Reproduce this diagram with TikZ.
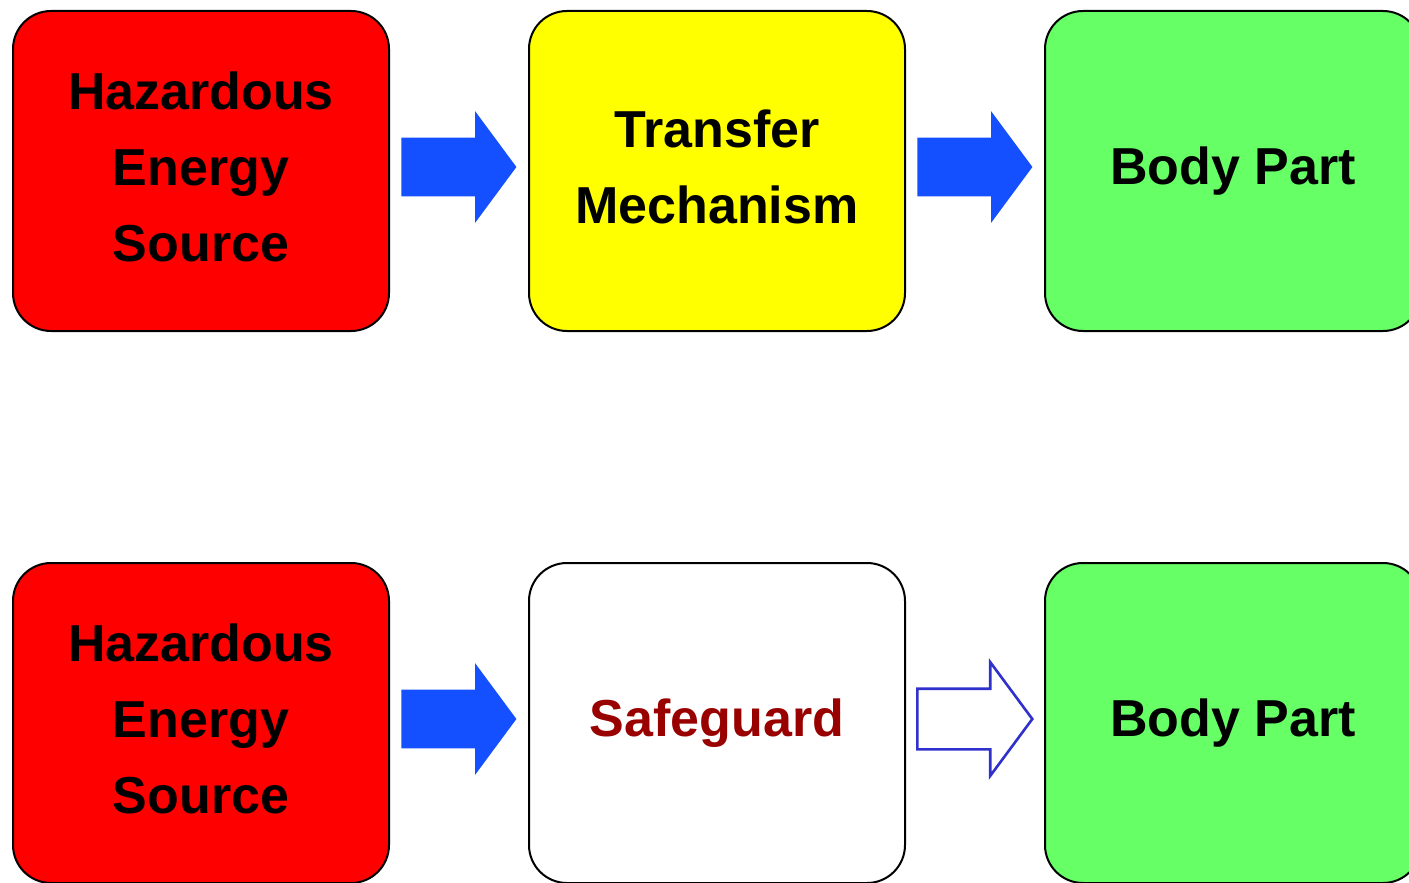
\documentclass[tikz,border=0pt]{standalone}
\usepackage{fontspec}
\setmainfont{Liberation Sans}
\usetikzlibrary{positioning,shapes.arrows}
\definecolor{hazred}{HTML}{FF0000}
\definecolor{mechyellow}{HTML}{FFFF00}
\definecolor{bodygreen}{HTML}{66FF66}
\definecolor{flowblue}{HTML}{1450FF}
\definecolor{lineblue}{HTML}{3030CC}
\definecolor{guardred}{HTML}{990000}

\begin{document}
\begin{tikzpicture}[
  x=0.5pt,y=-0.5pt,
  stage/.style={draw=black,line width=1pt,rounded corners=19pt,
                minimum width=188pt,minimum height=160pt,align=center,
                font=\fontsize{26}{38}\selectfont\bfseries},
  stack/.style={text depth=4pt},
  flow/.style={shape=single arrow,inner xsep=0pt,inner ysep=14.5pt,
               minimum height=57.5pt,single arrow head extend=13.25pt,
               single arrow tip angle=107},
  solidflow/.style={flow,fill=flowblue},
  openflow/.style={flow,fill=white,draw=lineblue,line width=1.3pt}]
\clip (0,0) rectangle (1409,883);
\useasboundingbox (0,0) rectangle (1409,883);
% upper row: energy reaches the body
\node[stage,stack,fill=hazred] (haz1) at (201,171) {Hazardous\\Energy\\Source};
\node[stage,stack,fill=mechyellow,right=69pt of haz1] (mech) {Transfer\\Mechanism};
\node[stage,fill=bodygreen,right=69pt of mech] (body1) {Body Part};
\node[solidflow,right=5.5pt of haz1,yshift=2pt] (arr1) {};
\node[solidflow,right=5.5pt of mech,yshift=2pt] (arr2) {};
% lower row: the safeguard blocks it
\node[stage,stack,fill=hazred,below=115pt of haz1] (haz2) {Hazardous\\Energy\\Source};
\node[stage,fill=white,text=guardred,right=69pt of haz2] (guard) {Safeguard};
\node[stage,fill=bodygreen,right=69pt of guard] (body2) {Body Part};
\node[solidflow,right=5.5pt of haz2,yshift=2pt] (arr3) {};
\node[openflow,right=5pt of guard,yshift=2pt] (arr4) {};
\end{tikzpicture}
\end{document}
